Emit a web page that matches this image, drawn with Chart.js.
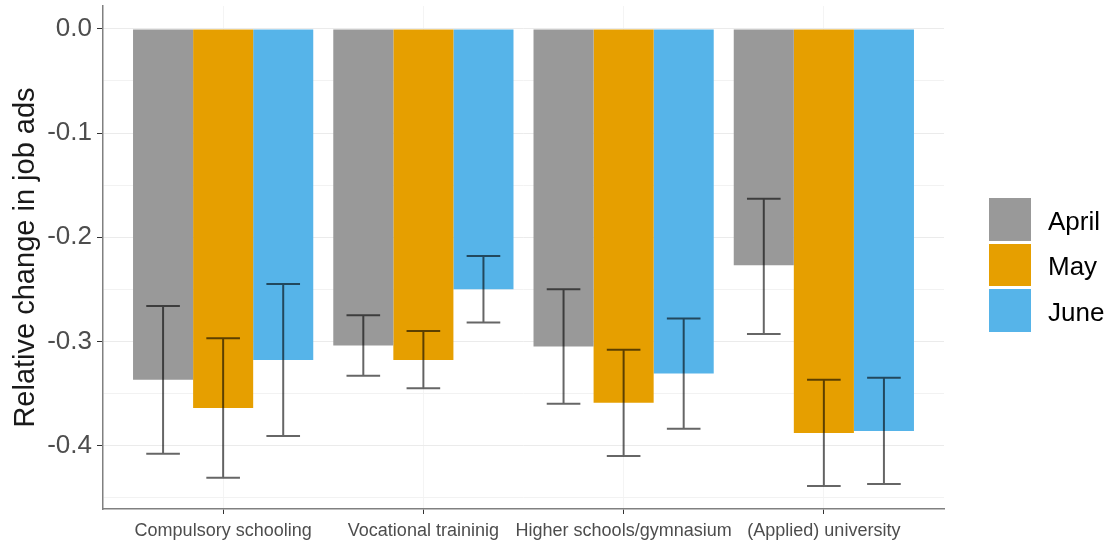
<!DOCTYPE html>
<html><head><meta charset="utf-8">
<script src="https://cdn.jsdelivr.net/npm/chart.js@4/dist/chart.umd.min.js"></script>
<style>
html,body{margin:0;padding:0;background:#fff;}
#wrap{position:relative;width:1108px;height:547px;overflow:hidden;}
#legend{position:absolute;left:989px;top:198px;font-family:"Liberation Sans",Arial,sans-serif;font-size:26px;color:#000;}
.item{display:flex;align-items:center;height:42.5px;margin-bottom:3px;}
.item span{position:relative;top:2px;}
.key{width:42px;height:42.5px;margin-right:17px;box-sizing:border-box;}
</style></head><body>
<div id="wrap"><canvas id="c" width="1108" height="547"></canvas><div id="legend"></div></div>
<script>
const categories = ['Compulsory schooling', 'Vocational traininig', 'Higher schools/gymnasium', '(Applied) university'];
const seriesNames = ['April', 'May', 'June'];
const seriesColors = ['#999999', '#E69F00', '#56B4E9'];

const aprilChange = [-0.337, -0.304, -0.305, -0.227];
const aprilLower  = [-0.408, -0.333, -0.360, -0.293];
const aprilUpper  = [-0.266, -0.275, -0.250, -0.163];

const mayChange = [-0.364, -0.318, -0.359, -0.388];
const mayLower  = [-0.431, -0.345, -0.410, -0.439];
const mayUpper  = [-0.297, -0.290, -0.308, -0.337];

const juneChange = [-0.318, -0.250, -0.331, -0.386];
const juneLower  = [-0.391, -0.282, -0.384, -0.437];
const juneUpper  = [-0.245, -0.218, -0.278, -0.335];

const yTicks = [0, -0.05, -0.1, -0.15, -0.2, -0.25, -0.3, -0.35, -0.4, -0.45];
const yTitle = 'Relative change in job ads';

const values = [aprilChange, mayChange, juneChange];
const lowers = [aprilLower, mayLower, juneLower];
const uppers = [aprilUpper, mayUpper, juneUpper];

const FONT = '"Liberation Sans", Arial, sans-serif';
const isMajor = v => Math.abs(Math.round(v * 10) - v * 10) < 1e-6;

const errorBars = {
  id: 'errorBars',
  afterDatasetsDraw(chart) {
    const ctx = chart.ctx;
    const ys = chart.scales.y;
    ctx.save();
    ctx.strokeStyle = 'rgba(0,0,0,0.6)';
    ctx.lineWidth = 2;
    chart.data.datasets.forEach((ds, d) => {
      const meta = chart.getDatasetMeta(d);
      meta.data.forEach((el, i) => {
        const x = el.x;
        const hw = el.width * 0.28;
        const y1 = ys.getPixelForValue(lowers[d][i]);
        const y2 = ys.getPixelForValue(uppers[d][i]);
        ctx.beginPath();
        ctx.moveTo(x, y1); ctx.lineTo(x, y2);
        ctx.moveTo(x - hw, y1); ctx.lineTo(x + hw, y1);
        ctx.moveTo(x - hw, y2); ctx.lineTo(x + hw, y2);
        ctx.stroke();
      });
    });
    ctx.restore();
  }
};

new Chart(document.getElementById('c'), {
  type: 'bar',
  data: {
    datasets: seriesNames.map((name, k) => ({
      label: name,
      data: values[k].map((v, i) => ({ x: i, y: v })),
      backgroundColor: seriesColors[k],
      borderWidth: 0,
      categoryPercentage: 0.9,
      barPercentage: 1.0
    }))
  },
  options: {
    responsive: false,
    animation: false,
    layout: { padding: { top: 6, right: 164, left: 0, bottom: 0 } },
    plugins: { legend: { display: false }, tooltip: { enabled: false } },
    scales: {
      x: {
        type: 'linear', min: -0.6, max: 3.6, offset: false,
        afterBuildTicks: s => { s.ticks = categories.map((c, i) => ({ value: i })); },
        afterFit: s => { s.height = 38; s.paddingLeft = 0; s.paddingRight = 0; },
        ticks: { callback: v => categories[v] ?? '', font: { family: FONT, size: 18 }, color: '#4d4d4d', padding: 6, maxRotation: 0, autoSkip: false },
        grid: { color: '#f4f4f4', tickColor: '#333333', tickLength: 5, offset: false, lineWidth: 1 },
        border: { color: '#808080', width: 1.5 }
      },
      y: {
        type: 'linear', min: -0.461, max: 0.022,
        afterBuildTicks: s => { s.ticks = yTicks.map(v => ({ value: v })); },
        afterFit: s => { s.width = 103; s.paddingTop = 0; s.paddingBottom = 0; },
        ticks: {
          callback: v => isMajor(v) ? (Math.abs(v) < 1e-9 ? '0.0' : v.toFixed(1)) : '',
          font: { family: FONT, size: 26 }, color: '#4d4d4d', padding: 5, autoSkip: false
        },
        grid: {
          color: c => isMajor(c.tick.value) ? '#ebebeb' : '#f2f2f2',
          tickColor: c => isMajor(c.tick.value) ? '#333333' : 'rgba(0,0,0,0)',
          tickLength: 6, lineWidth: 1
        },
        border: { color: '#808080', width: 1.5 },
        title: { display: true, text: yTitle, font: { family: FONT, size: 29 }, color: '#1a1a1a', padding: { top: 9, bottom: 0 } }
      }
    }
  },
  plugins: [errorBars]
});

const legend = document.getElementById('legend');
seriesNames.forEach((n, k) => {
  const item = document.createElement('div');
  item.className = 'item';
  const key = document.createElement('div');
  key.className = 'key';
  key.style.background = seriesColors[k];
  const label = document.createElement('span');
  label.textContent = n;
  item.appendChild(key); item.appendChild(label);
  legend.appendChild(item);
});
</script>
</body></html>
